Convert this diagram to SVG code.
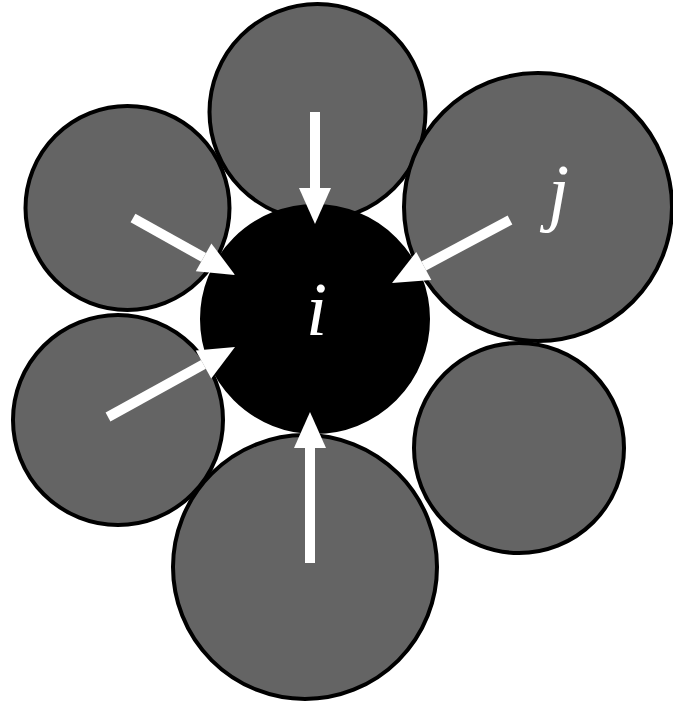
<svg xmlns="http://www.w3.org/2000/svg" width="673" height="708" viewBox="0 0 673 708">
<style>
.g{fill:#646464;stroke:#000;stroke-width:4}
.c{fill:#000;stroke:#000;stroke-width:4}
.a{stroke:#fff;stroke-width:10;fill:none;marker-end:url(#ah)}
.t{font-family:"Liberation Serif","DejaVu Serif",serif;font-style:italic;fill:#fff;font-size:76px}
</style>
<defs>
<marker id="ah" markerUnits="userSpaceOnUse" markerWidth="37" markerHeight="33" refX="0" refY="16" orient="auto" overflow="visible">
<path d="M0,0 L36,16 L0,32 Z" fill="#fff"/>
</marker>
</defs>
<rect width="673" height="708" fill="#fff"/>
<g id="n-topleft"><circle class="g" cx="127.5" cy="208" r="102"/></g>
<g id="n-leftlower"><circle class="g" cx="118" cy="420" r="105"/></g>
<g id="n-top"><circle class="g" cx="317.5" cy="112" r="108"/></g>
<g id="n-j"><circle class="g" cx="538" cy="207" r="134"/><text class="t" x="548" y="217">j</text></g>
<g id="n-rightlower"><circle class="g" cx="519" cy="448" r="105"/></g>
<g id="n-bottom"><circle class="g" cx="305" cy="567" r="132"/></g>
<g id="n-i"><circle class="c" cx="315" cy="319" r="113"/><text class="t" x="306" y="335">i</text></g>
<g id="connectors">
<line class="a" x1="315" y1="112" x2="315" y2="188"/>
<line class="a" x1="310" y1="563" x2="310" y2="448"/>
<line class="a" x1="133" y1="218" x2="203.6" y2="257.4"/>
<line class="a" x1="510" y1="220" x2="423.8" y2="266"/>
<line class="a" x1="108" y1="417" x2="203.5" y2="364.4"/>
</g>
</svg>
